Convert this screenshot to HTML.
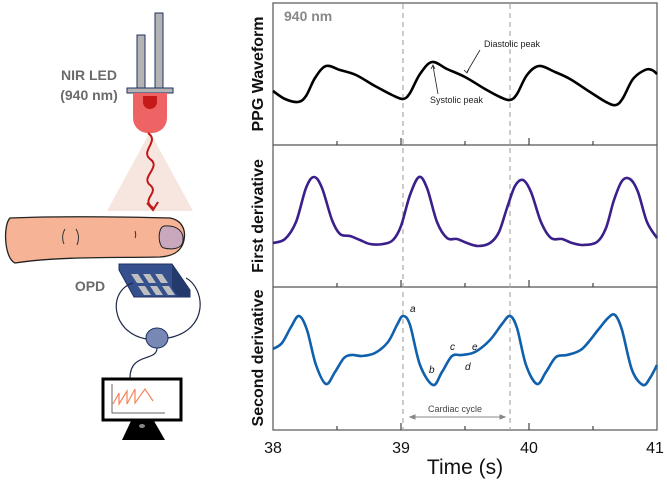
<!DOCTYPE html>
<html><head><meta charset="utf-8"><style>
html,body{margin:0;padding:0;background:#fff;}
svg{display:block;font-family:"Liberation Sans",Arial,sans-serif;}
</style></head><body>
<svg width="667" height="482" viewBox="0 0 667 482" xmlns="http://www.w3.org/2000/svg">
<text x="89" y="80" font-size="14" font-weight="bold" fill="#6b6b6b" text-anchor="middle">NIR LED</text>
<text x="89" y="100" font-size="14" font-weight="bold" fill="#6b6b6b" text-anchor="middle">(940 nm)</text>
<polygon points="150,132 107,211 193,211" fill="#f6e6df"/>
<rect x="137" y="35" width="8" height="55" fill="#b3b3b3" stroke="#1f3060" stroke-width="1"/>
<rect x="155" y="13" width="8" height="77" fill="#b3b3b3" stroke="#1f3060" stroke-width="1"/>
<rect x="127" y="88" width="46" height="5" fill="#b3b3b3" stroke="#1f3060" stroke-width="1"/>
<path d="M133,93 H167 V118 A15,15 0 0 1 152,133 H148 A15,15 0 0 1 133,118 Z" fill="#ee6464"/>
<path d="M143,96 H157 V102 A7,7 0 0 1 143,102 Z" fill="#c41a1a"/>
<path d="M148,133 C160,141 140,151 150,159 C162,167 140,177 150,185 C160,193 140,199 153,208" fill="none" stroke="#c01818" stroke-width="2"/>
<path d="M147,203 L153,210 L158,202" fill="none" stroke="#c01818" stroke-width="2"/>
<path d="M10,218 C60,216 130,217 170,218 C182,220 186,230 184,240 C182,250 175,256 160,257 C120,258 60,256 15,263 C4,258 3,225 10,218 Z" fill="#f6b395" stroke="#222" stroke-width="1.3"/>
<path d="M164,226 C178,225 184,232 183,241 C182,249 172,250 164,248 C158,247 157,228 164,226 Z" fill="#c9a8bd" stroke="#222" stroke-width="1"/>
<path d="M65,229 C62,234 62,240 64,244 M76,229 C79,234 79,240 77,245 M135,231 C136,234 136,236 135,238" fill="none" stroke="#333" stroke-width="1"/>
<text x="90" y="291" font-size="14" font-weight="bold" fill="#6b6b6b" text-anchor="middle">OPD</text>
<polygon points="119,264 172,264 190,290 190,297 178,297 134,297 119,270" fill="#34508d" stroke="#1f3060" stroke-width="1"/>
<polygon points="172,264 190,290 190,297 178,297 172,288" fill="#24396c"/>
<g fill="#bfbfbf"><polygon points="131,274 138,274 144,283 137,283"/><polygon points="143,274 150,274 156,283 149,283"/><polygon points="155,274 162,274 168,283 161,283"/>
<polygon points="138,286 145,286 151,295 144,295"/><polygon points="150,286 157,286 163,295 156,295"/><polygon points="162,286 169,286 175,295 168,295"/></g>
<path d="M133,283 C108,290 110,332 146,339 M168,338 C210,330 205,288 186,278 M157,348 C157,362 130,352 130,378" fill="none" stroke="#1f2a4a" stroke-width="1.2"/>
<ellipse cx="157" cy="338" rx="11" ry="10" fill="#7688b3" stroke="#1f3060" stroke-width="1"/>
<rect x="103" y="379" width="78" height="41" fill="#fff" stroke="#000" stroke-width="3"/>
<path d="M112,384 V413 H165" fill="none" stroke="#666" stroke-width="1"/>
<path d="M113,404 L119,393 L119,404 L127,391 L127,404 L135,389 L135,403 L145,389 L153,401" fill="none" stroke="#f2865a" stroke-width="1.2"/>
<polygon points="131,421 154,421 165,440 122,440" fill="#000"/>
<ellipse cx="142" cy="426" rx="3" ry="2" fill="#888"/>

<g stroke="#555" stroke-width="1.2" fill="none">
<rect x="273" y="3" width="384" height="427"/>
<line x1="273" y1="145" x2="657" y2="145"/>
<line x1="273" y1="287" x2="657" y2="287"/>
</g>
<g stroke="#444" stroke-width="1.2">
<path d="M401,145 v-7 M529,145 v-7 M337,145 v-4 M465,145 v-4 M593,145 v-4
M401,287 v-7 M529,287 v-7 M337,287 v-4 M465,287 v-4 M593,287 v-4
M401,430 v-7 M529,430 v-7 M337,430 v-4 M465,430 v-4 M593,430 v-4"/>
</g>
<g stroke="#aaa" stroke-width="1.2" stroke-dasharray="5,4">
<line x1="403" y1="4" x2="403" y2="430"/>
<line x1="510" y1="4" x2="510" y2="430"/>
</g>
<text x="284" y="21" font-size="14" font-weight="bold" fill="#888">940 nm</text>
<text transform="translate(263,74) rotate(-90)" font-size="16" font-weight="bold" text-anchor="middle" fill="#111">PPG Waveform</text>
<text transform="translate(263,216) rotate(-90)" font-size="16" font-weight="bold" text-anchor="middle" fill="#111">First derivative</text>
<text transform="translate(263,358) rotate(-90)" font-size="16" font-weight="bold" text-anchor="middle" fill="#111">Second derivative</text>
<g font-size="16" fill="#111" text-anchor="middle">
<text x="273" y="453">38</text><text x="401" y="453">39</text><text x="529" y="453">40</text><text x="655" y="453">41</text>
</g>
<text x="465" y="474" font-size="21" text-anchor="middle" fill="#111">Time (s)</text>

<path id="p1" fill="none" stroke="#000" stroke-width="2.6" stroke-linejoin="round"/>
<path id="p2" fill="none" stroke="#3b1f8a" stroke-width="2.6" stroke-linejoin="round"/>
<path id="p3" fill="none" stroke="#1060ac" stroke-width="2.6" stroke-linejoin="round"/>

<g font-size="9" fill="#222">
<text x="484" y="47">Diastolic peak</text>
<text x="430" y="103">Systolic peak</text>
</g>
<g stroke="#222" stroke-width="0.8" fill="none">
<path d="M480,50 L467,72 M464,70 L467,73 L469,69"/>
<path d="M438,94 L433,66 M431,69 L433,65 L435,69"/>
</g>
<g font-size="10" font-style="italic" fill="#111">
<text x="410" y="312">a</text><text x="429" y="373">b</text><text x="450" y="350">c</text><text x="465" y="370">d</text><text x="472" y="350">e</text>
</g>
<text x="455" y="412" font-size="9" fill="#444" text-anchor="middle">Cardiac cycle</text>
<g stroke="#888" stroke-width="1" fill="#888">
<line x1="412" y1="417" x2="503" y2="417"/>
<polygon points="410,417 415,415 415,419"/><polygon points="505,417 500,415 500,419"/>
</g>
</svg>
<script>
function cr(p){var d="M"+p[0][0]+","+p[0][1];for(var i=0;i<p.length-1;i++){var a=p[i-1]||p[i],b=p[i],c=p[i+1],e=p[i+2]||c;
d+=" C"+(b[0]+(c[0]-a[0])/6).toFixed(1)+","+(b[1]+(c[1]-a[1])/6).toFixed(1)+" "+(c[0]-(e[0]-b[0])/6).toFixed(1)+","+(c[1]-(e[1]-b[1])/6).toFixed(1)+" "+c[0]+","+c[1];}return d;}
var P1=[[273,91],[285,99],[298,102],[306,96],[315,78],[326,66],[340,70],[356,75],[375,86],[392,95],[403,99],[410,93],[420,74],[432,62],[447,69],[465,77],[485,89],[500,97],[510,100],[517,94],[527,75],[539,66],[555,72],[570,79],[590,92],[606,102],[616,105],[623,98],[633,79],[645,70],[652,70],[657,74]];
var P2=[[273,243],[285,239],[296,222],[306,188],[314,177],[322,188],[332,220],[340,234],[350,236],[360,240],[370,244],[383,244],[393,240],[401,226],[410,195],[419,177],[427,188],[437,222],[447,238],[457,239],[467,243],[478,246],[490,243],[499,232],[507,208],[515,186],[523,180],[531,192],[541,222],[551,238],[562,239],[572,243],[583,245],[597,242],[606,228],[614,200],[622,181],[630,179],[638,192],[647,222],[657,238]];
var P3=[[273,349],[282,343],[291,327],[299,316],[307,330],[316,365],[326,384],[335,372],[344,358],[352,355],[362,356],[375,353],[388,342],[397,325],[403,316],[410,325],[420,365],[433,385],[442,372],[452,356],[462,355],[475,352],[490,340],[502,324],[510,316],[517,328],[526,365],[537,384],[546,372],[556,357],[567,355],[582,349],[598,330],[608,318],[615,315],[622,330],[632,370],[643,385],[650,378],[657,365]];
document.getElementById("p1").setAttribute("d",cr(P1));
document.getElementById("p2").setAttribute("d",cr(P2));
document.getElementById("p3").setAttribute("d",cr(P3));
</script>
</body></html>
